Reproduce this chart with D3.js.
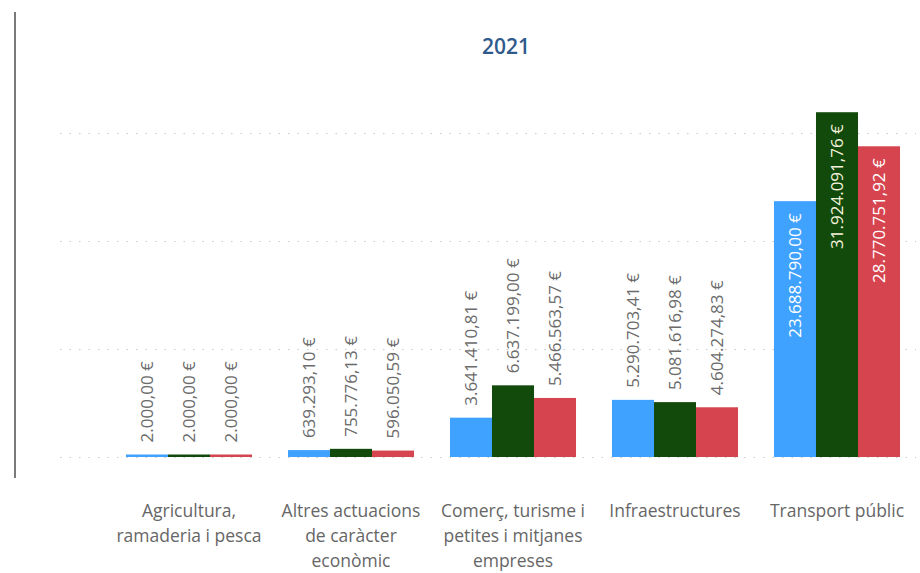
<!DOCTYPE html>
<html>
<head>
<meta charset="utf-8">
<script src="https://cdn.jsdelivr.net/npm/d3@7"></script>
<style>
  body { margin: 0; background: #fff; }
  svg { font-family: "Open Sans", "Noto Sans", sans-serif; }
</style>
</head>
<body>
<div id="chart"></div>
<script>
// data
var categories = [
    "Agricultura, ramaderia i pesca",
    "Altres actuacions de caràcter econòmic",
    "Comerç, turisme i petites i mitjanes empreses",
    "Infraestructures",
    "Transport públic"
];
// wrapped label lines as they show under the axis
var categoryLines = [
    ["Agricultura,", "ramaderia i pesca"],
    ["Altres actuacions", "de caràcter", "econòmic"],
    ["Comerç, turisme i", "petites i mitjanes", "empreses"],
    ["Infraestructures"],
    ["Transport públic"]
];
var seriesNames = ["serie1", "serie2", "serie3"];
var serie1 = [2000.00, 639293.10, 3641410.81, 5290703.41, 23688790.00];
var serie2 = [2000.00, 755776.13, 6637199.00, 5081616.98, 31924091.76];
var serie3 = [2000.00, 596050.59, 5466563.57, 4604274.83, 28770751.92];
var gridValues = [0, 10000000, 20000000, 30000000];
var title = "2021";

var colors = ["#3FA2FE", "#124A0B", "#D6454F"];

var width = 920, height = 573;

// build rows for drawing
var rows = categories.map(function (c, i) {
    return { cat: c, values: [serie1[i], serie2[i], serie3[i]] };
});

var svg = d3.select("#chart").append("svg")
    .attr("width", width)
    .attr("height", height);

var x = d3.scaleBand()
    .domain(categories)
    .range([108, 918])
    .paddingInner(0.222)
    .paddingOuter(0.111);

var xs = d3.scaleBand()
    .domain(seriesNames)
    .range([0, x.bandwidth()]);

var y = d3.scaleLinear()
    .domain([0, 30000000])
    .range([457, 133]);

var locale = d3.formatLocale({ decimal: ",", thousands: ".", grouping: [3], currency: ["", " €"] });
var fmt = locale.format(",.2f");
function euro(v) { return fmt(v) + " €"; }

// left border line
svg.append("line")
    .attr("x1", 15).attr("x2", 15)
    .attr("y1", 12).attr("y2", 478)
    .attr("stroke", "#7a7a7a")
    .attr("stroke-width", 2);

// dotted grid
svg.append("g").selectAll("line")
    .data(gridValues)
    .enter().append("line")
    .attr("x1", 60).attr("x2", 916)
    .attr("y1", function (d) { return Math.round(y(d)) + 0.5; })
    .attr("y2", function (d) { return Math.round(y(d)) + 0.5; })
    .attr("stroke", "#c8c8c8")
    .attr("stroke-width", 1.2)
    .attr("stroke-dasharray", "1.5,8");

// title
svg.append("text")
    .attr("x", 506).attr("y", 54)
    .attr("text-anchor", "middle")
    .style("font-size", "21px")
    .style("font-weight", "600")
    .style("fill", "#2F5A8C")
    .text(title);

var groups = svg.append("g").selectAll("g")
    .data(rows)
    .enter().append("g")
    .attr("transform", function (d) { return "translate(" + x(d.cat) + ",0)"; });

var bars = groups.selectAll("g")
    .data(function (d) {
        return d.values.map(function (v, j) { return { key: seriesNames[j], value: v, idx: j }; });
    })
    .enter().append("g");

// tiny values still show as a thin line
function barTop(d) { return Math.min(y(d.value), y(0) - 2.5); }
function isInside(d) { return y(0) - y(d.value) > 200; }

bars.append("rect")
    .attr("x", function (d) { return xs(d.key); })
    .attr("width", xs.bandwidth())
    .attr("y", barTop)
    .attr("height", function (d) { return y(0) - barTop(d); })
    .attr("fill", function (d) { return colors[d.idx]; });

// value labels, rotated; inside the bar when it is tall enough
bars.append("text")
    .attr("transform", function (d) {
        var cx = xs(d.key) + xs.bandwidth() / 2 + 6;
        var ty = isInside(d) ? y(d.value) + 12 : barTop(d) - 12;
        return "translate(" + cx + "," + ty + ") rotate(-90)";
    })
    .attr("text-anchor", function (d) { return isInside(d) ? "end" : "start"; })
    .style("font-size", "17px")
    .style("fill", function (d) { return isInside(d) ? (d.idx == 1 ? "#f4f2dc" : "#ffffff") : "#6b6b6b"; })
    .text(function (d) { return euro(d.value); });

// category labels
var labels = svg.append("g").selectAll("text")
    .data(rows)
    .enter().append("text")
    .attr("x", function (d) { return x(d.cat) + x.bandwidth() / 2; })
    .attr("y", 517)
    .attr("text-anchor", "middle")
    .style("font-size", "17.5px")
    .style("fill", "#666666");

labels.each(function (d, i) {
    var t = d3.select(this);
    categoryLines[i].forEach(function (line, k) {
        t.append("tspan")
            .attr("x", x(d.cat) + x.bandwidth() / 2)
            .attr("dy", k == 0 ? 0 : 25)
            .text(line);
    });
});
</script>
</body>
</html>
